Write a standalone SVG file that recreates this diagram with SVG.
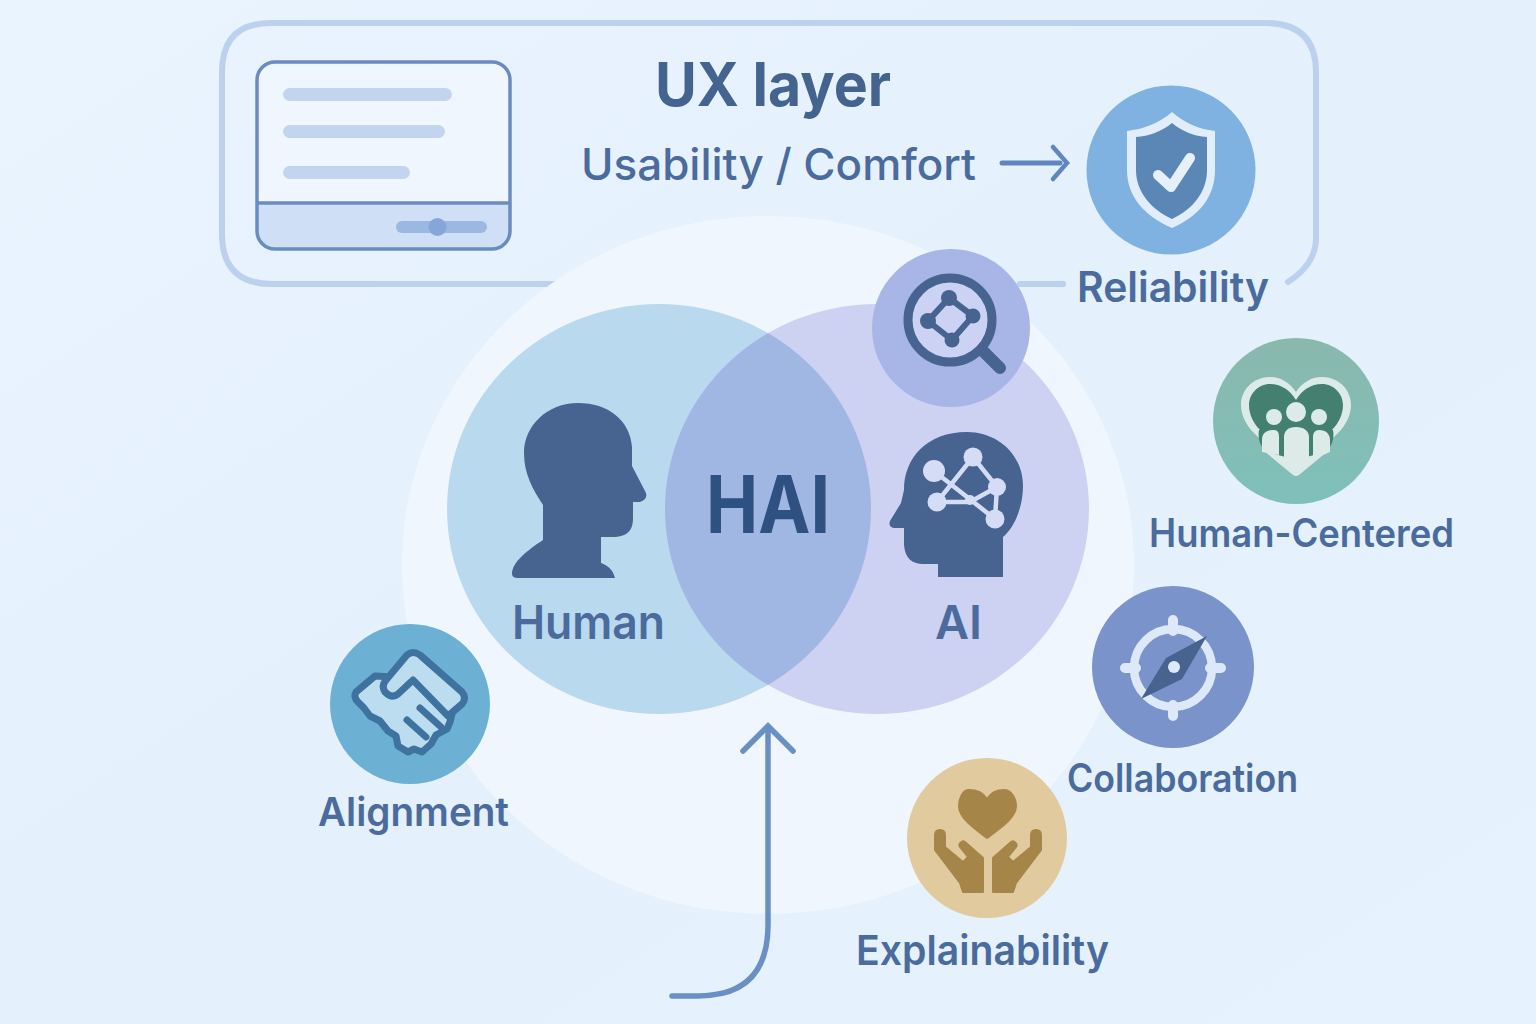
<svg xmlns="http://www.w3.org/2000/svg" width="1536" height="1024" viewBox="0 0 1536 1024">
<style>
text{font-family:"Inter","Roboto","Liberation Sans",sans-serif;fill:#4a6b9c;font-weight:600}
.lab{font-size:41px}
.frame{fill:none;stroke:#bcd1ee;stroke-width:6;stroke-linecap:round}
.dark{fill:#46648f}
.bar{fill:#c3d4ee}
</style>
<defs>
<linearGradient id="bg" x1="0" y1="0" x2="1" y2="1"><stop offset="0" stop-color="#e9f4ff"/><stop offset=".5" stop-color="#e4f0fc"/><stop offset="1" stop-color="#e6f2fd"/></linearGradient>
<linearGradient id="teal" x1="0" y1="0" x2="0" y2="1"><stop offset="0" stop-color="#8ab8ad"/><stop offset="1" stop-color="#7fc0bb"/></linearGradient>
<clipPath id="humanClip"><ellipse cx="659" cy="509" rx="212" ry="205"/></clipPath>
<clipPath id="winClip"><rect x="257" y="62" width="253" height="187" rx="18"/></clipPath>
</defs>
<rect width="1536" height="1024" fill="url(#bg)"/>
<g id="ux-frame">
<path class="frame" d="M640 284H272Q222 284 222 234V72Q222 23 271 23H1265Q1316 23 1316 72V238Q1316 264 1288 282"/>
<path class="frame" d="M1020 284H1063"/>
</g>
<ellipse id="backdrop" cx="768" cy="565" rx="366" ry="349" fill="#f0f6fe"/>
<path class="frame" d="M1020 284H1063"/>
<g id="ui-window">
<rect x="257" y="62" width="253" height="187" rx="18" fill="#f0f6fe"/>
<rect x="257" y="203" width="253" height="46" fill="#cfdff5" clip-path="url(#winClip)"/>
<path d="M257 203H510" stroke="#6a8cc0" stroke-width="3.500"/>
<rect x="257" y="62" width="253" height="187" rx="18" fill="none" stroke="#6a8cc0" stroke-width="3.500"/>
<rect class="bar" x="283" y="88" width="169" height="13" rx="6.500"/>
<rect class="bar" x="283" y="125" width="162" height="13" rx="6.500"/>
<rect class="bar" x="283" y="166" width="127" height="13" rx="6.500"/>
<rect x="396" y="221" width="91" height="12" rx="6" fill="#9bb8e0"/>
<circle cx="437.500" cy="227" r="9" fill="#85a6d6"/>
</g>
<g id="ux-labels">
<text x="655" y="106" font-size="60" style="font-weight:700;fill:#44648f" textLength="236" lengthAdjust="spacingAndGlyphs">UX layer</text>
<text x="581" y="180" font-size="44" textLength="395" lengthAdjust="spacing" style="font-weight:500">Usability / Comfort</text>
</g>
<g id="connectors" fill="none" stroke-linecap="round" stroke-linejoin="miter">
<path d="M1002 163H1060" stroke="#5f86bf" stroke-width="5"/>
<path d="M1053 147L1067 163L1053 179" stroke="#5f86bf" stroke-width="4.500"/>
<path d="M672 996H698Q768 996 768 925V730" stroke="#6a8fc4" stroke-width="5.500"/>
<path d="M743 751L768 726L793 751" stroke="#6a8fc4" stroke-width="5.500"/>
</g>
<g id="human">
<ellipse cx="659" cy="509" rx="212" ry="205" fill="#b9d9ef"/>
<path class="dark" d="M578 403C547 403 524 426 524 453C524 474 533 490 543 505V540C528 550 512 562 512 574Q512 578 518 578H615C612 568 608 566 601 563V537H612C628 537 633 530 633 518V502H640C646 500 648 496 645 491L632 466V447C630 420 608 403 578 403Z"/>
<text x="512" y="639" font-size="47" textLength="153" lengthAdjust="spacingAndGlyphs">Human</text>
</g>
<g id="ai">
<ellipse cx="877" cy="509" rx="212" ry="205" fill="#cdd2f3"/>
<path class="dark" d="M967 432C927 432 904 458 904 490L901 503L890 521Q888 527 894 528H904V545C905 558 912 564 923 564H938V577H1003V537C1015 527 1023 506 1023 486C1023 455 998 432 967 432Z"/>
<g stroke="#d5dcf5" stroke-width="4.500" fill="none">
<path d="M934 471L995 519L997 487L973 457L937 502H970L997 487"/>
</g>
<g fill="#d5dcf5">
<circle cx="934" cy="471" r="11"/><circle cx="973" cy="457" r="9.500"/><circle cx="997" cy="487" r="9"/><circle cx="995" cy="519" r="9.500"/><circle cx="937" cy="502" r="9.500"/><circle cx="970" cy="500" r="5"/>
</g>
<text x="935" y="639" font-size="47" textLength="47" lengthAdjust="spacingAndGlyphs">AI</text>
</g>
<g id="hai">
<ellipse cx="877" cy="509" rx="212" ry="205" fill="#a0b6e3" clip-path="url(#humanClip)"/>
<text x="706" y="533" font-size="80" style="font-weight:700;fill:#2f5182" textLength="124" lengthAdjust="spacingAndGlyphs">HAI</text>
</g>
<g id="search">
<circle cx="951" cy="328" r="79" fill="#a8b5e7"/>
<circle cx="950" cy="320" r="42" fill="#ccd2f3" stroke="#46648f" stroke-width="9"/>
<path d="M983 351L1000 368" stroke="#46648f" stroke-width="12" stroke-linecap="round"/>
<path d="M949 298L973 316L952 340L928 321Z" fill="none" stroke="#46648f" stroke-width="6"/>
<g class="dark"><circle cx="949" cy="298" r="8"/><circle cx="973" cy="316" r="7.500"/><circle cx="952" cy="340" r="7.500"/><circle cx="928" cy="321" r="8"/></g>
</g>
<g id="reliability">
<circle cx="1171" cy="170" r="84.500" fill="#7fb2e0"/>
<path d="M1172 112C1158 124 1143 129 1127 131V170C1127 197 1145 216 1172 228C1199 216 1215 197 1215 170V131C1199 129 1186 124 1172 112Z" fill="#e1edfb"/>
<path d="M1172 123C1161 132 1149 136 1136 137V170C1136 192 1151 209 1172 219C1193 209 1207 192 1207 170V137C1194 136 1183 132 1172 123Z" fill="#5a87b5"/>
<path d="M1158 175L1171 187L1190 158" fill="none" stroke="#e6f0fb" stroke-width="10" stroke-linecap="round" stroke-linejoin="round"/>
<text x="1077" y="302" class="lab" style="font-size:42px" textLength="192" lengthAdjust="spacingAndGlyphs">Reliability</text>
</g>
<g id="human-centered">
<circle cx="1296" cy="421" r="83" fill="url(#teal)"/>
<path d="M1296 475L1254 433C1246 425 1241 415 1241 405C1241 389 1254 377 1270 377C1281 377 1290 383 1296 392C1302 383 1311 377 1322 377C1338 377 1351 389 1351 405C1351 415 1346 425 1338 433Z" fill="#dcebe8"/>
<path d="M1296 400C1290 390 1281 384 1270 384C1258 384 1249 394 1249 405C1249 415 1254 424 1260 430L1264 448H1328L1332 430C1338 424 1343 415 1343 405C1343 394 1334 384 1322 384C1311 384 1302 390 1296 400Z" fill="#44806f"/>
<path d="M1259 430Q1257 442 1264 449L1296 475L1328 449Q1335 442 1333 430Q1325 429 1320 431H1272Q1266 429 1259 430Z" fill="#44806f"/>
<path d="M1262 452V440C1262 432 1268 430 1274 430C1278 430 1279 433 1279 437V455ZM1284 461V437C1284 431 1288 427 1296 427C1304 427 1309 431 1309 437V461L1296 473ZM1313 455V437C1313 433 1315 430 1319 430C1326 430 1330 434 1330 440V452L1316 458Z" fill="#dcebe8"/>
<path d="M1264 451L1293 475Q1296 477 1299 475L1328 451L1296 460Z" fill="#dcebe8"/>
<g fill="#dcebe8"><circle cx="1274" cy="417" r="8"/><circle cx="1296" cy="412" r="10"/><circle cx="1319" cy="417" r="8"/></g>
<text x="1149" y="547" class="lab" style="font-size:39px" textLength="305" lengthAdjust="spacingAndGlyphs">Human-Centered</text>
</g>
<g id="collaboration">
<circle cx="1173" cy="667" r="81" fill="#7a94cb"/>
<circle cx="1173" cy="668" r="39" fill="none" stroke="#dde8f8" stroke-width="8.500"/>
<path d="M1173 620V631M1173 705V716M1125 668H1136M1210 668H1221" stroke="#dde8f8" stroke-width="10" stroke-linecap="round"/>
<path d="M1207 636L1166 658L1141 699L1182 679Z" fill="#46648f"/>
<circle cx="1174" cy="667" r="6" fill="#dde8f8"/>
<text x="1067" y="792" class="lab" style="font-size:39px" textLength="231" lengthAdjust="spacingAndGlyphs">Collaboration</text>
</g>
<g id="alignment">
<circle cx="410" cy="704" r="80" fill="#6cb0d3"/>
<g fill="#bcdcf0" stroke="#3e73a0" stroke-width="7" stroke-linejoin="round" stroke-linecap="round">
<path d="M375 676L356 692Q353 697 358 702L364 708L370 716L380 721L388 731L396 736L398 746L408 752L414 749L422 752L431 744L436 735L447 729L450 722L452 714L413 678Z"/>
<path d="M386 680L407 655Q413 650 420 655L462 692Q467 698 462 704L448 716L413 680L398 694Q392 699 385 692Q381 686 386 680Z"/>
<path d="M420 708L441 727M407 720L426 737" fill="none"/>
</g>
<text x="318" y="826" class="lab" style="font-size:40px" textLength="191" lengthAdjust="spacingAndGlyphs">Alignment</text>
</g>
<g id="explainability">
<circle cx="987" cy="838" r="80" fill="#e1cb9e"/>
<g fill="#a68549" stroke="#a68549" stroke-width="2" stroke-linejoin="round">
<path d="M987 799C982 791 974 790 969 790C963 790 959 798 959 806C959 818 974 828 987 838C1000 828 1016 818 1016 806C1016 798 1011 790 1004 790C998 790 992 791 987 799Z"/>
<path d="M940 830C937 830 935 832 935 835V850L960 883L963 892H983V858L965 842C962 840 958 844 960 847L968 857L963 862L945 847V835C945 832 943 830 940 830Z"/>
<path d="M1036 830C1039 830 1041 832 1041 835V850L1016 883L1013 892H993V858L1011 842C1014 840 1018 844 1016 847L1008 857L1013 862L1031 847V835C1031 832 1033 830 1036 830Z"/>
</g>
<text x="856" y="965" class="lab" textLength="253" lengthAdjust="spacingAndGlyphs">Explainability</text>
</g>
</svg>
